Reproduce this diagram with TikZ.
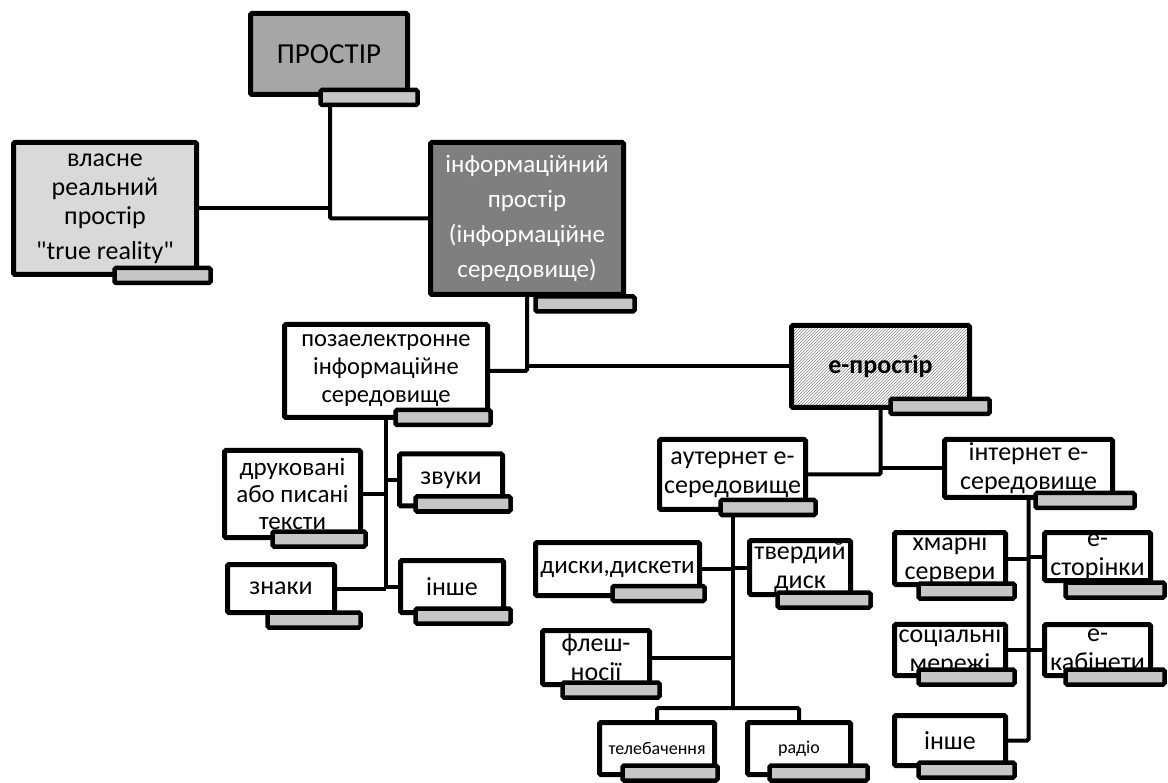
\documentclass[tikz,border=0pt]{standalone}
\usepackage{fontspec}
\setmainfont{Carlito}
\newfontfamily\straightquote{Carlito}
\usepackage{tikz}
\usetikzlibrary{patterns,backgrounds}
\definecolor{greyA}{HTML}{A6A6A6}
\definecolor{greyB}{HTML}{D9D9D9}
\definecolor{greyC}{HTML}{7F7F7F}
\definecolor{tabgrey}{HTML}{C6C6C6}
\tikzset{>=stealth,
	box/.style={draw, line width=5pt, rounded corners=1.5pt, fill=white, align=center, inner sep=0pt, font=\fontsize{26}{29}\selectfont},
	tab/.style={draw, line width=4.5pt, rounded corners=1.5pt, fill=tabgrey, inner sep=0pt, minimum height=15pt},
	link/.style={line width=4pt, rounded corners=1.5pt},
}

\begin{document}
\begin{tikzpicture}[x=1pt,y=-1pt]
				\useasboundingbox (0,0) rectangle (1168,783);
				
				\node[box, fill=greyA, minimum width=157pt, minimum height=81pt, font=\fontsize{29}{32}\selectfont] (prostir) at (329,54) {ПРОСТІР};
				\node[tab, minimum width=97pt] (prostir-t) at (369,97.5) {};
				\node[box, fill=greyB, minimum width=183pt, minimum height=132pt] (real) at (105,208.5) {власне\\реальний\\простір\\[6pt]{\straightquote"}true reality{\straightquote"}};
				\node[tab, minimum width=96pt] (real-t) at (162.5,275.5) {};
				\node[box, fill=greyC, text=white, minimum width=193pt, minimum height=152pt, font=\fontsize{25}{35}\selectfont] (info) at (527,218.5) {інформаційний\\простір\\(інформаційне\\середовище)};
				\node[tab, minimum width=99pt] (info-t) at (585,304) {};
				
				\node[box, minimum width=203pt, minimum height=93pt, font=\fontsize{24.5}{28}\selectfont] (offline) at (386,371) {позаелектронне\\інформаційне\\середовище};
				\node[tab, minimum width=95pt] (offline-t) at (443,417.5) {};
				\node[box, pattern=north east lines, pattern color=gray, minimum width=178pt, minimum height=82pt, font=\fontsize{26}{30}\selectfont\bfseries] (eprostir) at (880.5,366.5) {е-простір};
				\node[tab, minimum width=99pt] (eprostir-t) at (940,406.5) {};
				
				\node[box, minimum width=136pt, minimum height=87pt, font=\fontsize{25}{27}\selectfont] (printed) at (292.5,494) {друковані\\або писані\\тексти};
				\node[tab, minimum width=93pt] (printed-t) at (319,539) {};
				\node[box, minimum width=103pt, minimum height=52pt] (sounds) at (451,480) {звуки};
				\node[tab, minimum width=95pt] (sounds-t) at (463,504) {};
				\node[box, minimum width=107pt, minimum height=48pt] (signs) at (281,588.5) {знаки};
				\node[tab, minimum width=93pt] (signs-t) at (314,620) {};
				\node[box, minimum width=103pt, minimum height=52pt] (other) at (452,586.5) {інше};
				\node[tab, minimum width=95pt] (other-t) at (463,616) {};
				
				\node[box, minimum width=146pt, minimum height=70pt] (outernet) at (732.5,474.5) {аутернет е-\\середовище};
				\node[tab, minimum width=95pt] (outernet-t) at (768,507.5) {};
				\node[box, minimum width=164pt, minimum height=53pt, font=\fontsize{25}{29}\selectfont] (disks) at (617.5,569) {диски,дискети};
				\node[tab, minimum width=92pt] (disks-t) at (658.5,593.5) {};
				\node[box, minimum width=101pt, minimum height=54pt] (hdd) at (800,567.5) {твердий\\диск};
				\node[tab, minimum width=93pt] (hdd-t) at (824,600) {};
				\node[box, minimum width=107pt, minimum height=54pt] (flash) at (596,657.5) {флеш-\\носії};
				\node[tab, minimum width=97pt] (flash-t) at (611,690) {};
				\node[box, minimum width=115pt, minimum height=52pt, font=\fontsize{18}{20}\selectfont] (tv) at (657,748.5) {телебачення};
				\node[tab, minimum width=95pt] (tv-t) at (670,773) {};
				\node[box, minimum width=103pt, minimum height=52pt, font=\fontsize{18}{20}\selectfont] (radio) at (799,748.5) {радіо};
				\node[tab, minimum width=98pt] (radio-t) at (818.5,773) {};
				
				\node[box, minimum width=168pt, minimum height=58pt] (internet) at (1028.5,468.5) {інтернет е-\\середовище};
				\node[tab, minimum width=99pt] (internet-t) at (1085,500.5) {};
				\node[box, minimum width=111pt, minimum height=52pt] (cloud) at (950,558.5) {хмарні\\сервери};
				\node[tab, minimum width=96pt] (cloud-t) at (966.5,591) {};
				\node[box, minimum width=106pt, minimum height=48pt] (pages) at (1097.5,556.5) {е-\\сторінки};
				\node[tab, minimum width=99pt] (pages-t) at (1115,590) {};
				\node[box, minimum width=111pt, minimum height=51pt] (social) at (950,650) {соціальні\\мережі};
				\node[tab, minimum width=96pt] (social-t) at (966.5,677) {};
				\node[box, minimum width=106pt, minimum height=51pt] (cabinets) at (1097.5,650) {е-\\кабінети};
				\node[tab, minimum width=99pt] (cabinets-t) at (1115,677) {};
				\node[box, minimum width=111pt, minimum height=50pt] (other2) at (950,740.5) {інше};
				\node[tab, minimum width=96pt] (other2-t) at (966.5,770) {};
				
				\coordinate (j-prostir) at (330,218.5);
				\coordinate (j-media) at (732.5,708);
				
				\begin{scope}[on background layer]
					\draw[link] (prostir-t.south -| j-prostir) -- (j-prostir) -- (info.west);
					\draw[link] (real.east) -- (real.east -| j-prostir);
					
					\draw[link] (info.south) -- (info.south |- offline.east) -- (offline.east);
					\draw[link] (info.south |- eprostir.west) -- (eprostir.west);
					
					\draw[link] (offline.south) -- (offline.south |- signs.east);
					\draw[link] (printed.east) -- (printed.east -| offline.south);
					\draw[link] (sounds.west) -- (sounds.west -| offline.south);
					\draw[link] (signs.east) -- (signs.east -| offline.south);
					\draw[link] (other.west) -- (other.west -| offline.south);
					
					\draw[link] (eprostir.south) -- (eprostir.south |- outernet.east) -- (outernet.east);
					\draw[link] (eprostir.south |- internet.west) -- (internet.west);
					
					\draw[link] (outernet.south) -- (j-media);
					\draw[link] (tv.north) -- (tv.north |- j-media) -- (radio.north |- j-media) -- (radio.north);
					\draw[link] (disks.east) -- (disks.east -| outernet.south);
					\draw[link] (hdd.west) -- (hdd.west -| outernet.south);
					\draw[link] (flash.east) -- (flash.east -| outernet.south);
					
					\draw[link] (internet.south) -- (internet.south |- other2.east) -- (other2.east);
					\draw[link] (cloud.east) -- (cloud.east -| internet.south);
					\draw[link] (pages.west) -- (pages.west -| internet.south);
					\draw[link] (social.east) -- (social.east -| internet.south);
					\draw[link] (cabinets.west) -- (cabinets.west -| internet.south);
				\end{scope}
			\end{tikzpicture}
\end{document}
